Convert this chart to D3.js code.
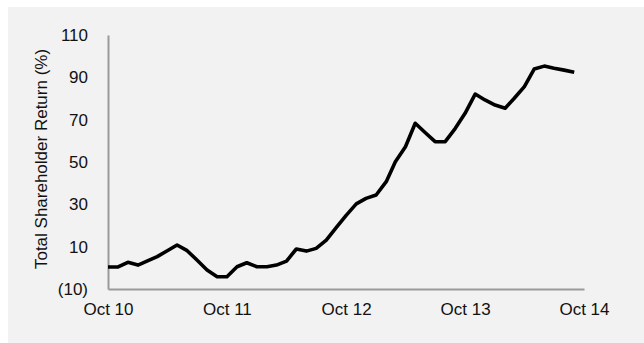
<!DOCTYPE html>
<html>
<head>
<meta charset="utf-8">
<script src="https://cdn.jsdelivr.net/npm/d3@7"></script>
<style>
  html, body { margin: 0; padding: 0; background: #ffffff; }
  svg { display: block; }
  text { font-family: "Liberation Sans", Arial, sans-serif; fill: #111; }
</style>
</head>
<body>
<script>
const months = ["2010-10","2010-11","2010-12","2011-01","2011-02","2011-03","2011-04","2011-05","2011-06","2011-07","2011-08","2011-09",
  "2011-10","2011-11","2011-12","2012-01","2012-02","2012-03","2012-04","2012-05","2012-06","2012-07","2012-08","2012-09",
  "2012-10","2012-11","2012-12","2013-01","2013-02","2013-03","2013-04","2013-05","2013-06","2013-07","2013-08","2013-09",
  "2013-10","2013-11","2013-12","2014-01","2014-02","2014-03","2014-04","2014-05","2014-06","2014-07","2014-08","2014-09"];
const tsr = [0.4,0.4,2.6,1.3,3.4,5.3,8.1,10.8,8.1,3.7,-1,-4.2,
  -4.2,0.5,2.4,0.5,0.5,1.3,3.2,8.9,7.9,9.2,13.1,19.1,
  24.8,30.2,32.8,34.4,40.7,50.1,57.2,68.3,63.8,59.6,59.6,65.9,
  73,82.1,79.3,76.9,75.4,80.1,85.6,93.9,95.3,94.3,93.4,92.4];
const xTickLabels = ["Oct 10","Oct 11","Oct 12","Oct 13","Oct 14"];
const xTickDates = ["2010-10","2011-10","2012-10","2013-10","2014-10"];
const yTicks = [-10,10,30,50,70,90,110];
const yTitle = "Total Shareholder Return (%)";

const W = 644, H = 343;
const parse = d3.timeParse("%Y-%m");
const svg = d3.select("body").append("svg").attr("width", W).attr("height", H);

svg.append("rect").attr("x", 8).attr("y", 7).attr("width", W - 8).attr("height", H - 7).attr("fill", "#f2f2f2");

const x = d3.scaleTime().domain([parse("2010-10"), parse("2014-10")]).range([108, 584]);
const y = d3.scaleLinear().domain([-10, 110]).range([289, 35]);

const fmtY = v => v < 0 ? "(" + Math.abs(v) + ")" : String(v);

// Y axis
const yAxis = svg.append("g").attr("transform", "translate(108,0)")
  .call(d3.axisLeft(y).tickValues(yTicks).tickSize(0).tickPadding(20).tickFormat(fmtY));
yAxis.select(".domain").attr("stroke", "#9a9a9a").attr("stroke-width", 2);
yAxis.selectAll("text").style("font-size", "17px").attr("fill", "#111");

// X axis
const xAxis = svg.append("g").attr("transform", "translate(0,289)")
  .call(d3.axisBottom(x).tickValues(xTickDates.map(parse)).tickSize(0).tickPadding(14)
    .tickFormat((d, i) => xTickLabels[i]));
xAxis.select(".domain").attr("stroke", "#9a9a9a").attr("stroke-width", 2);
xAxis.selectAll("text").style("font-size", "17px").attr("fill", "#111");

// Y title
svg.append("text")
  .attr("transform", "translate(47,159) rotate(-90)")
  .attr("text-anchor", "middle")
  .style("font-size", "17px")
  .text(yTitle);

// Line
const data = months.map((m, i) => ({ d: parse(m), v: tsr[i] }));
svg.append("path")
  .datum(data)
  .attr("fill", "none")
  .attr("stroke", "#000")
  .attr("stroke-width", 3.6)
  .attr("stroke-linejoin", "round")
  .attr("d", d3.line().x(p => x(p.d)).y(p => y(p.v)));
</script>
</body>
</html>
